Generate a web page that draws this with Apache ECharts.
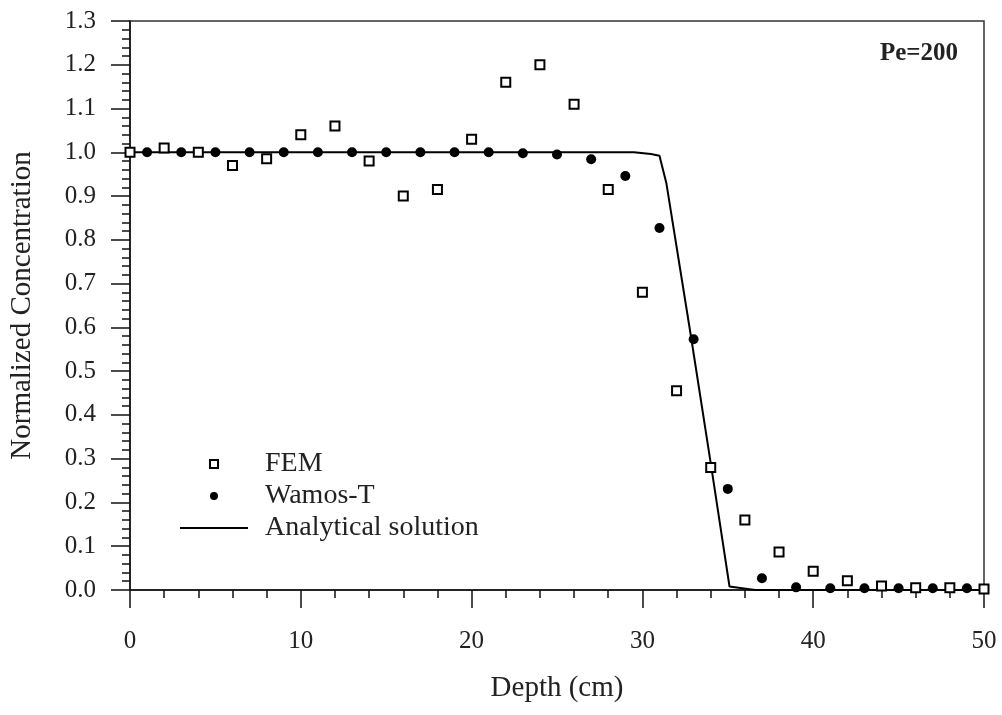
<!DOCTYPE html>
<html>
<head>
<meta charset="utf-8">
<script src="https://cdn.jsdelivr.net/npm/echarts@6/dist/echarts.min.js"></script>
<style>
  html, body { margin: 0; padding: 0; background: #fff; }
  #chart { width: 1002px; height: 715px; }
</style>
</head>
<body>
<div id="chart"></div>
<script>
// ---- data ----
var femDepth = [0, 2, 4, 6, 8, 10, 12, 14, 16, 18, 20, 22, 24, 26, 28, 30, 32, 34, 36, 38, 40, 42, 44, 46, 48, 50];
var femConc  = [1.0, 1.01, 1.0, 0.97, 0.985, 1.04, 1.06, 0.98, 0.90, 0.915, 1.03, 1.16, 1.20, 1.11, 0.915, 0.68, 0.455, 0.28, 0.16, 0.087, 0.043, 0.021, 0.009, 0.005, 0.005, 0.002];

var wamosDepth = [1, 3, 5, 7, 9, 11, 13, 15, 17, 19, 21, 23, 25, 27, 29, 31, 33, 35, 37, 39, 41, 43, 45, 47, 49];
var wamosConc  = [1.0, 1.0, 1.0, 1.0, 1.0, 1.0, 1.0, 1.0, 1.0, 1.0, 1.0, 0.998, 0.995, 0.984, 0.946, 0.827, 0.573, 0.231, 0.027, 0.006, 0.004, 0.004, 0.004, 0.004, 0.004];

var anaDepth = [0, 29.5, 30.5, 31.0, 31.4, 32.8, 34.0, 35.1, 36.6, 50];
var anaConc  = [1.0, 1.0, 0.996, 0.992, 0.93, 0.59, 0.29, 0.008, 0.0, 0.0];

var seriesNames = ['FEM', 'Wamos-T', 'Analytical solution'];
var annotation = 'Pe=200';
var xAxisName = 'Depth (cm)';
var yAxisName = 'Normalized Concentration';

function pairs(xs, ys) { return xs.map(function (x, i) { return [x, ys[i]]; }); }

var serif = '"Liberation Serif", "Times New Roman", serif';
var axisCol = '#111';

var chart = echarts.init(document.getElementById('chart'));
chart.setOption({
  animation: false,
  backgroundColor: '#fff',
  title: {
    text: annotation,
    right: 44, top: 41, padding: 0,
    textStyle: { fontFamily: serif, fontWeight: 'bold', fontSize: 25, color: '#222' }
  },
  grid: {
    left: 130, right: 18, top: 21, bottom: 125,
    show: true, borderColor: '#333', borderWidth: 1.5, backgroundColor: 'transparent'
  },
  legend: {
    orient: 'vertical',
    left: 180, top: 450, padding: 0,
    itemWidth: 68, itemHeight: 8, itemGap: 4,
    textStyle: { fontFamily: serif, fontSize: 28, color: '#222', lineHeight: 28, padding: [0, 0, 0, 12] },
    data: [
      { name: seriesNames[0], icon: 'path://M0 0H10V10H0Z' },
      { name: seriesNames[1], icon: 'circle' },
      { name: seriesNames[2], icon: 'path://M0 0H68V2H0Z' }
    ]
  },
  xAxis: {
    type: 'value', min: 0, max: 50, interval: 10,
    name: xAxisName, nameLocation: 'middle', nameGap: 84,
    nameTextStyle: { fontFamily: serif, fontSize: 29, color: '#222' },
    axisLine: { show: true, onZero: false, lineStyle: { color: axisCol, width: 1.5 } },
    axisTick: { show: true, inside: false, length: 18, lineStyle: { color: axisCol, width: 1.5 } },
    minorTick: { show: true, splitNumber: 5, length: 8, lineStyle: { color: axisCol, width: 1.5 } },
    axisLabel: { margin: 39, fontFamily: serif, fontSize: 25, color: '#222' },
    splitLine: { show: false }
  },
  yAxis: {
    type: 'value', min: 0, max: 1.3, interval: 0.1,
    name: yAxisName, nameLocation: 'middle', nameGap: 93, nameRotate: 90,
    nameTextStyle: { fontFamily: serif, fontSize: 29, color: '#222' },
    axisLine: { show: true, onZero: false, lineStyle: { color: axisCol, width: 1.5 } },
    axisTick: { show: true, inside: false, length: 19, lineStyle: { color: axisCol, width: 1.5 } },
    minorTick: { show: true, splitNumber: 5, length: 8, lineStyle: { color: axisCol, width: 1.5 } },
    axisLabel: { margin: 34, fontFamily: serif, fontSize: 25, color: '#222',
      formatter: function (v) { return v.toFixed(1); } },
    splitLine: { show: false }
  },
  series: [
    {
      name: seriesNames[2], type: 'line', data: pairs(anaDepth, anaConc),
      symbol: 'none', lineStyle: { color: '#000', width: 2 }, itemStyle: { color: '#000' }, z: 2
    },
    {
      name: seriesNames[0], type: 'scatter', data: pairs(femDepth, femConc),
      symbol: 'rect', symbolSize: [9, 9],
      itemStyle: { color: '#fff', borderColor: '#000', borderWidth: 2, opacity: 1 }, z: 3
    },
    {
      name: seriesNames[1], type: 'scatter', data: pairs(wamosDepth, wamosConc),
      symbol: 'circle', symbolSize: 10,
      itemStyle: { color: '#000', opacity: 1 }, z: 4
    }
  ]
});
</script>
</body>
</html>
